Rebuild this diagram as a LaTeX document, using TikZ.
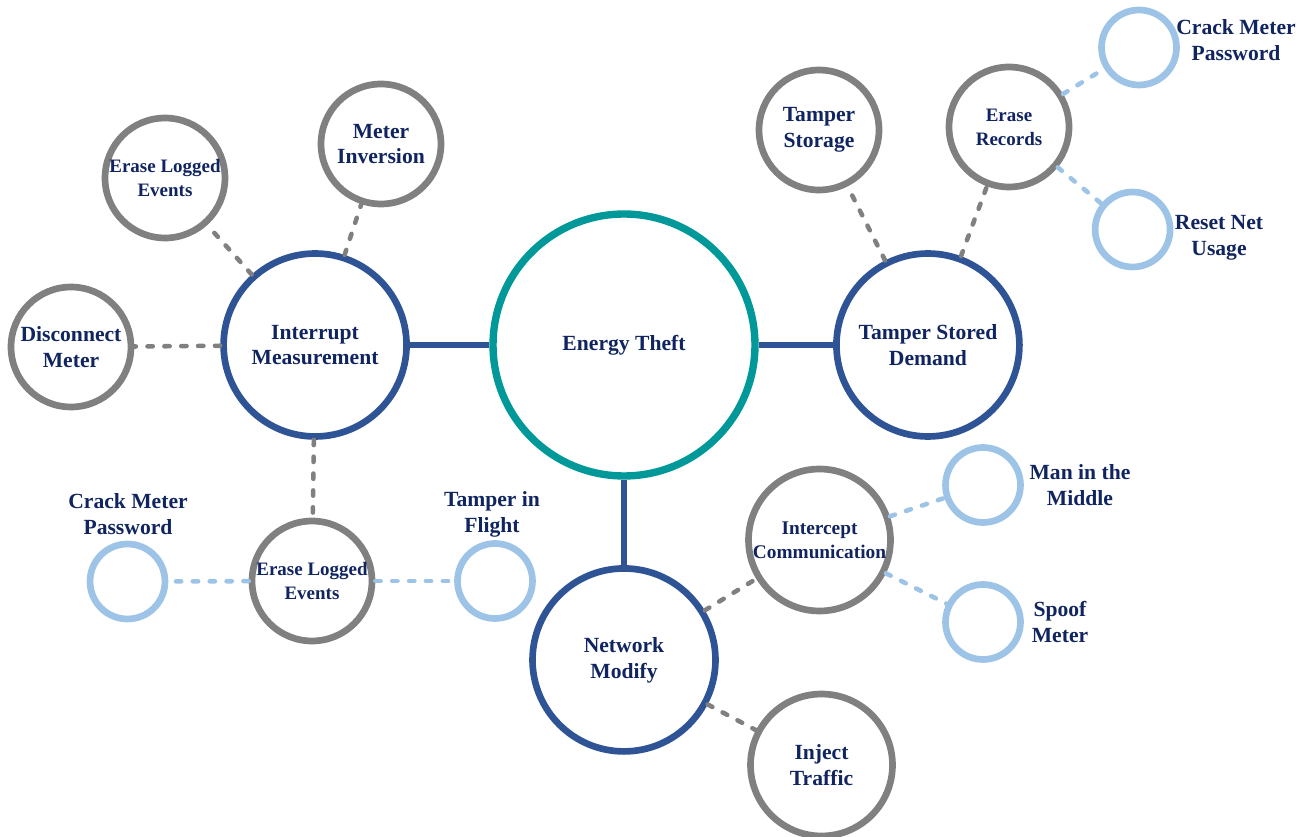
\documentclass[tikz,border=0pt]{standalone}
\usepackage{fontspec}
\setmainfont{Liberation Serif}
\usepackage{tikz}
\definecolor{sea}{RGB}{0,152,152}
\definecolor{navy}{RGB}{47,84,150}
\definecolor{stone}{RGB}{128,128,128}
\definecolor{sky}{RGB}{157,195,230}
\definecolor{ink}{RGB}{16,36,96}
\usetikzlibrary{shapes.geometric, positioning}
\tikzstyle{root} = [circle, minimum size=5.24cm, inner sep=0pt, align=center, draw=sea, line width=4.2pt, text=ink, font=\bfseries\fontsize{12.3}{14.7}\selectfont]
\tikzstyle{hub} = [circle, minimum size=3.66cm, inner sep=0pt, align=center, draw=navy, line width=3.8pt, text=ink, font=\bfseries\fontsize{12.3}{14.7}\selectfont]
\tikzstyle{leaf} = [circle, minimum size=2.4cm, inner sep=0pt, align=center, draw=stone, line width=3.8pt, text=ink, font=\bfseries\fontsize{12.3}{14.7}\selectfont]
\tikzstyle{bigleaf} = [leaf, minimum size=2.84cm]
\tikzstyle{small} = [font=\bfseries\fontsize{10.8}{13.6}\selectfont]
\tikzstyle{tip} = [circle, minimum size=1.5cm, inner sep=0pt, draw=sky, line width=3.8pt]
\tikzstyle{tiptext} = [align=center, text=ink, inner sep=0pt, font=\bfseries\fontsize{12.3}{14.7}\selectfont]
\tikzstyle{trunk} = [draw=navy, line width=3.2pt]
\tikzstyle{twig} = [draw=stone, line width=2.6pt, line cap=round, dash pattern=on 3pt off 6.6pt]
\tikzstyle{skytwig} = [twig, draw=sky]

\begin{document}
\begin{tikzpicture}[x=0.02cm, y=-0.02cm]
    \useasboundingbox (0,0) rectangle (1305,837);

    % centre and the three branches
    \node (node0) [root] at (624,345) {Energy Theft};
    \node (node1) [hub, left of=node0, node distance=6.18cm] {Interrupt\\Measurement};
    \node (node2) [hub, right of=node0, node distance=6.08cm] {Tamper Stored\\Demand};
    \node (node3) [hub, below of=node0, node distance=6.3cm] {Network\\Modify};

    % interrupt measurement
    \node (node4) [leaf, small] at (165,178) {Erase Logged\\Events};
    \node (node5) [leaf] at (381,144) {Meter\\Inversion};
    \node (node6) [leaf] at (71,347) {Disconnect\\Meter};
    \node (node7) [leaf, small] at (312,581) {Erase Logged\\Events};
    \node (node8) [tip] at (127.5,581.5) {};
    \node (text8) [tiptext] at (128,514) {Crack Meter\\Password};
    \node (node9) [tip] at (495,581) {};
    \node (text9) [tiptext] at (492,514) {Tamper in\\Flight};

    % tamper stored demand
    \node (node10) [leaf] at (819,130) {Tamper\\Storage};
    \node (node11) [leaf, small] at (1009,127) {Erase\\Records};
    \node (node12) [tip] at (1139,47.5) {};
    \node (text12) [tiptext] at (1236,40) {Crack Meter\\Password};
    \node (node13) [tip] at (1132.6,229.5) {};
    \node (text13) [tiptext] at (1219,238) {Reset Net\\Usage};

    % network modify
    \node (node14) [bigleaf, font=\bfseries\fontsize{11}{13.6}\selectfont] at (819.5,540) {Intercept\\Communication};
    \node (node15) [tip] at (983,485) {};
    \node (text15) [tiptext] at (1080,485) {Man in the\\Middle};
    \node (node16) [tip] at (983,622) {};
    \node (text16) [tiptext] at (1060,622) {Spoof\\Meter};
    \node (node17) [bigleaf] at (821.5,765) {Inject\\Traffic};

    \draw [trunk] (node0) -- (node1);
    \draw [trunk] (node0) -- (node2);
    \draw [trunk] (node0) -- (node3);

    \draw [twig] (node1) -- (node4);
    \draw [twig] (node1) -- (node5);
    \draw [twig] (node1) -- (node6);
    \draw [twig] (node1) -- (node7);
    \draw [skytwig] (node7) -- (node8);
    \draw [skytwig] (node7) -- (node9);

    \draw [twig] (node2) -- (node10);
    \draw [twig] (node2) -- (node11);
    \draw [skytwig] (node11) -- (node12);
    \draw [skytwig] (node11) -- (node13);

    \draw [twig] (node3) -- (node14);
    \draw [twig] (node3) -- (node17);
    \draw [skytwig] (node14) -- (node15);
    \draw [skytwig] (node14) -- (node16);
\end{tikzpicture}
\end{document}
